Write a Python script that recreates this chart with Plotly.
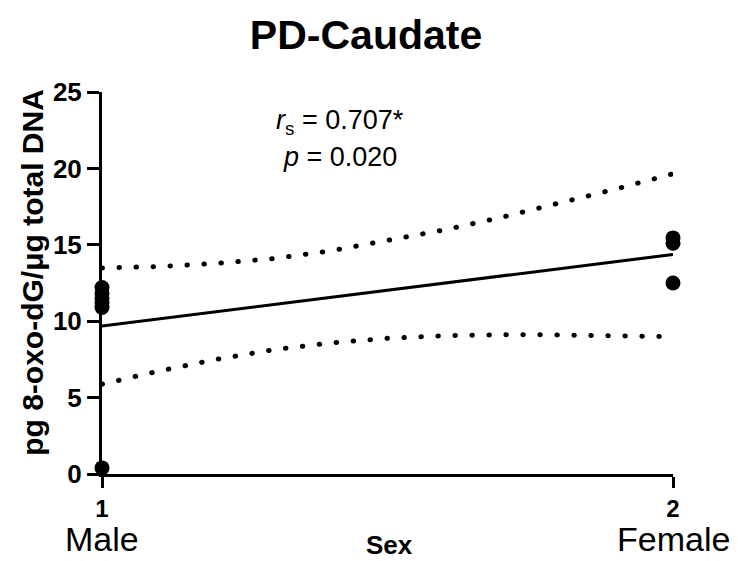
import plotly.graph_objects as go

# Data
male_x = [1, 1, 1, 1, 1, 1]
male_y = [12.2, 11.8, 11.5, 11.2, 10.9, 0.4]
female_x = [2, 2, 2]
female_y = [15.45, 15.1, 12.5]

fit_x = [1.0, 2.0]
fit_y = [9.68, 14.37]

band_x = [1.0, 1.1, 1.2, 1.3, 1.4, 1.5, 1.6, 1.7, 1.8, 1.9, 2.0]
upper_y = [13.48, 13.58, 13.78, 14.1, 14.6, 15.25, 15.98, 16.8, 17.7, 18.65, 19.65]
lower_y = [5.88, 6.74, 7.5, 8.13, 8.58, 8.88, 9.05, 9.12, 9.1, 9.05, 8.98]

x_ticks = [1, 2]
y_ticks = [0, 5, 10, 15, 20, 25]
group_labels = ["Male", "Female"]

FONT = "Arial, Liberation Sans, Helvetica, sans-serif"

fig = go.Figure()
dot_style = dict(color="black", width=5, dash="0.5px,16.5px")
fig.add_trace(go.Scatter(x=band_x, y=upper_y, mode="lines", line=dot_style,
                         hoverinfo="skip", cliponaxis=False))
fig.add_trace(go.Scatter(x=band_x, y=lower_y, mode="lines", line=dot_style,
                         hoverinfo="skip", cliponaxis=False))
fig.add_trace(go.Scatter(x=fit_x, y=fit_y, mode="lines",
                         line=dict(color="black", width=3), cliponaxis=False))
fig.add_trace(go.Scatter(x=male_x + female_x, y=male_y + female_y, mode="markers",
                         marker=dict(color="black", size=15), cliponaxis=False))

for xv, lab in zip(x_ticks, group_labels):
    fig.add_annotation(x=xv, y=0, xref="x", yref="y", text=lab, showarrow=False,
                       yshift=-65, font=dict(family=FONT, size=34, color="black"),
                       xanchor="center", yanchor="middle")

fig.add_annotation(x=0.417, y=0.921, xref="paper", yref="paper",
                   text="<i>r</i><sub>s</sub> = 0.707*", showarrow=False,
                   yanchor="middle",
                   font=dict(family=FONT, size=27, color="black"))
fig.add_annotation(x=0.417, y=0.83, xref="paper", yref="paper",
                   text="<i>p</i> = 0.020", showarrow=False, yanchor="middle",
                   font=dict(family=FONT, size=27, color="black"))

# axis titles
fig.add_annotation(x=0.503, y=-0.186, xref="paper", yref="paper",
                   text="<b>Sex</b>", showarrow=False, yanchor="middle",
                   font=dict(family=FONT, size=26, color="black"))
fig.add_annotation(x=-0.121, y=0.529, xref="paper", yref="paper",
                   text="<b>pg 8-oxo-dG/μg total DNA</b>", textangle=-90,
                   showarrow=False, xanchor="center", yanchor="middle",
                   font=dict(family=FONT, size=30, color="black"))

fig.update_layout(
    width=738, height=561,
    margin=dict(l=102, r=65, t=92, b=87),
    paper_bgcolor="white", plot_bgcolor="white",
    showlegend=False,
    title=dict(text="<b>PD-Caudate</b>", x=0.496, xanchor="center", y=0.938, yanchor="middle",
               font=dict(family=FONT, size=41, color="black")),
    xaxis=dict(range=[1, 2], tickvals=x_ticks, ticktext=["<b>1</b>", "<b>2</b>"],
               automargin=False,
               showgrid=False, zeroline=False, showline=True, linecolor="black", linewidth=3,
               ticks="outside", ticklen=11, tickwidth=3, tickcolor="black",
               tickfont=dict(family=FONT, size=24, color="black")),
    yaxis=dict(range=[0, 25], tickvals=y_ticks,
               automargin=False,
               ticktext=["<b>%d</b>" % v for v in y_ticks],
               showgrid=False, zeroline=False, showline=True, linecolor="black", linewidth=3,
               ticks="outside", ticklen=12, tickwidth=3, tickcolor="black",
               tickfont=dict(family=FONT, size=26, color="black")),
)

post = """
(function(){
  document.documentElement.style.margin = '0';
  document.documentElement.style.padding = '0';
  document.body.style.margin = '0';
  document.body.style.padding = '0';
  function fix(){
    document.querySelectorAll('path.js-line').forEach(function(p){
      var d = p.style.strokeDasharray;
      if (d && d !== 'none' && d !== '') { p.style.strokeLinecap = 'round'; }
    });
  }
  fix();
  var gd = document.getElementsByClassName('plotly-graph-div')[0];
  if (gd && gd.on) { gd.on('plotly_afterplot', fix); }
})();
"""

fig.write_html("out.html", post_script=post, config={"displayModeBar": False})
